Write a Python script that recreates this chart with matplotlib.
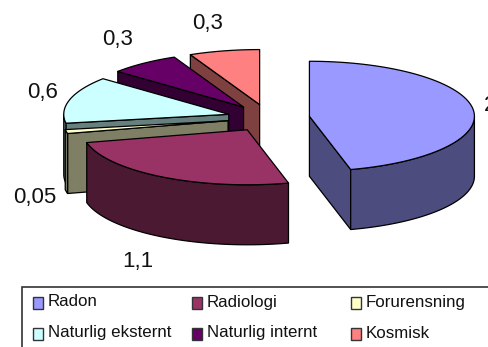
import numpy as np
import matplotlib
matplotlib.use("Agg")
import matplotlib.pyplot as plt
from matplotlib.patches import Polygon, Rectangle

plt.rcParams["font.family"] = ["Liberation Sans", "DejaVu Sans"]

names = ["Radon", "Radiologi", "Forurensning", "Naturlig eksternt", "Naturlig internt", "Kosmisk"]
values = [2, 1.1, 0.05, 0.6, 0.3, 0.3]
labels = ["2", "1,1", "0,05", "0,6", "0,3", "0,3"]
face_colors = ["#9999FF", "#993366", "#FFFFCC", "#CCFFFF", "#660066", "#FF8080"]
wall_colors = ["#4C4C7F", "#4C1933", "#7F7F66", "#667F7F", "#330033", "#7F4040"]

# pie shape in pixels
cx, cy = 268.5, 118
rx, ry = 165, 55
depth = 60
explode = 0.25

label_pos = [(484, 105, "left"), (138, 262, "center"), (35, 197, "center"),
             (43, 92, "center"), (118, 39, "center"), (208, 23, "center")]
legend_x = [33, 192, 351]
legend_y = [303, 334]


def rim(a1, a2, ox, oy):
    t = np.radians(np.linspace(a1, a2, 80))
    return np.column_stack([ox + rx * np.sin(t), oy - ry * np.cos(t)])


fig = plt.figure(figsize=(4.88, 3.47), dpi=100)
ax = fig.add_axes([0, 0, 1, 1])
ax.set_xlim(0, 488)
ax.set_ylim(347, 0)
ax.axis("off")

edges = np.cumsum([0] + values) / sum(values) * 360

# back slices first, clockwise from 12 o'clock means radon goes last
for i in [5, 4, 3, 2, 1, 0]:
    a1, a2 = edges[i], edges[i + 1]
    mid = np.radians((a1 + a2) / 2)
    ox = cx + explode * rx * np.sin(mid)
    oy = cy - explode * ry * np.cos(mid)
    style = dict(edgecolor="black", linewidth=0.9, joinstyle="round")

    # flat cut walls
    if np.sin(np.radians(a1)) < -1e-6:
        p = rim(a1, a1, ox, oy)[0]
        ax.add_patch(Polygon([(ox, oy), p, p + [0, depth], (ox, oy + depth)],
                             facecolor=wall_colors[i], **style))
    if np.sin(np.radians(a2)) > 1e-6:
        p = rim(a2, a2, ox, oy)[0]
        ax.add_patch(Polygon([(ox, oy), p, p + [0, depth], (ox, oy + depth)],
                             facecolor=wall_colors[i], **style))

    # outer wall, only the front half shows
    lo, hi = max(a1, 90), min(a2, 270)
    if lo < hi:
        top = rim(lo, hi, ox, oy)
        ax.add_patch(Polygon(np.vstack([top, (top + [0, depth])[::-1]]),
                             facecolor=wall_colors[i], **style))

    ax.add_patch(Polygon(np.vstack([[(ox, oy)], rim(a1, a2, ox, oy)]),
                         facecolor=face_colors[i], **style))

for text, (x, y, ha) in zip(labels, label_pos):
    ax.text(x, y, text, fontsize=16, ha=ha, va="center", color="#111111")

ax.add_patch(Rectangle((22, 287), 480, 80, facecolor="white", edgecolor="#333333",
                       linewidth=1.2))
for i, name in enumerate(names):
    x = legend_x[i % 3]
    y = legend_y[i // 3]
    ax.add_patch(Rectangle((x, y - 6), 10, 12, facecolor=face_colors[i],
                           edgecolor="#333333", linewidth=1))
    ax.text(x + 15, y - 1, name, fontsize=12.2, ha="left", va="center", color="#111111")

fig.savefig("out.png", dpi=100)
